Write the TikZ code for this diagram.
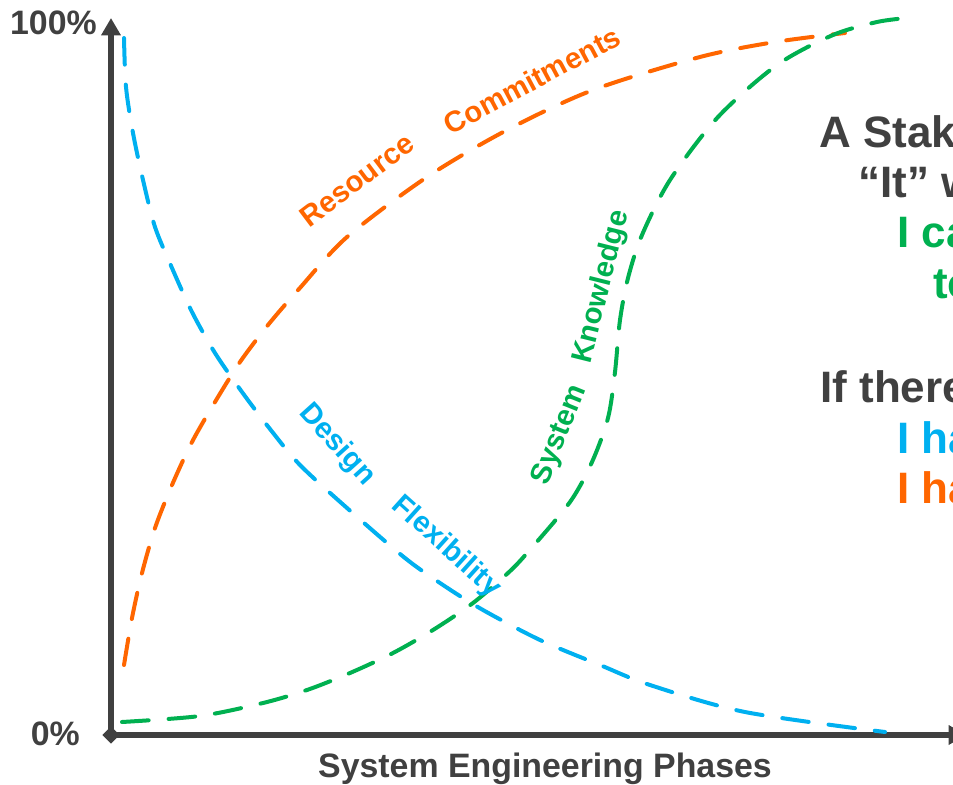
\documentclass[tikz,border=0pt]{standalone}
\usepackage{fontspec}
\setmainfont{Liberation Sans}
\usetikzlibrary{arrows.meta,shapes.geometric}
\definecolor{axisgray}{HTML}{404040}
\definecolor{flexblue}{HTML}{00B0F0}
\definecolor{costorange}{HTML}{FF6600}
\definecolor{knowgreen}{HTML}{00B050}
\begin{document}
\begin{tikzpicture}[x=0.75pt,y=-0.75pt,
  axis/.style={draw=axisgray,line width=3.8pt},
  curve/.style={line width=3pt,line cap=round,dash pattern=on 20pt off 15pt},
  curvelabel/.style={font=\fontsize{22}{26}\selectfont\bfseries,inner sep=0pt},
  axislabel/.style={font=\fontsize{25.4}{30}\selectfont\bfseries,text=axisgray,inner sep=0pt},
  sidetext/.style={font=\fontsize{33}{40}\selectfont\bfseries,inner sep=0pt,anchor=base west}]
  \useasboundingbox (0,0) rectangle (953,785);
  % axes
  \coordinate (origin) at (111,735);
  \coordinate (ytop) at (111,18);
  \coordinate (xend) at (966,735);
  \draw[axis,-{Triangle[length=13pt,width=14pt]}] (origin) -- (ytop);
  \draw[axis,-{Triangle[length=13pt,width=14pt]}] (origin) -- (xend);
  \node[diamond,fill=axisgray,inner sep=0pt,minimum size=13pt] (corner) at (origin) {};
  \node[axislabel,anchor=base east] (fulllbl) at (97,34) {100\%};
  \node[axislabel,anchor=base east] (zerolbl) at (80,745) {0\%};
  \node[axislabel,anchor=base] (phaselbl) at (545,777) {System Engineering Phases};
  % design flexibility
  \draw[curve,flexblue] plot[smooth] coordinates {(124,38) (126,87) (133,133) (143,180)
    (155,227) (172,268) (192,312) (215,353) (242,392) (270,429) (300,465)
    (347,508) (405,558) (443,585) (483,610) (540,640) (600,665) (650,685)
    (745,712) (885,732)};
  % resource commitments
  \draw[curve,costorange] plot[smooth] coordinates {(124,665) (132,618) (142,573)
    (155,528) (172,485) (192,442) (215,402) (240,362) (268,325) (299,289)
    (347,237) (427,177) (507,130) (593,90) (700,57) (775,42) (845,33)};
  % system knowledge
  \draw[curve,knowgreen] plot[smooth] coordinates {(122,722) (200,716) (263,703)
    (307,690) (350,673) (393,653) (433,630) (473,603) (508,573) (528,552)
    (570,502) (592,462) (608,418) (615,372) (620,320) (628,278) (642,235)
    (670,180) (718,117) (777,65) (833,35) (877,22) (907,18)};
  % curve labels
  \node[curvelabel,text=costorange,rotate=37] (resource) at (357,180) {Resource};
  \node[curvelabel,text=costorange,rotate=28] (commit) at (532,80) {Commitments};
  \node[curvelabel,text=flexblue,rotate=-48] (design) at (337,445) {Design};
  \node[curvelabel,text=flexblue,rotate=-42] (flex) at (446,547) {Flexibility};
  \node[curvelabel,text=knowgreen,rotate=68] (system) at (560,435) {System};
  \node[curvelabel,text=knowgreen,rotate=76] (know) at (602,287) {Knowledge};
  % side text
  \node[sidetext,text=axisgray] (stake) at (819,147) {A Stake};
  \node[sidetext,text=axisgray] (itw) at (858,197) {“It” w};
  \node[sidetext,text=knowgreen] (ica) at (897,247) {I ca};
  \node[sidetext,text=knowgreen] (to) at (933,298) {to};
  \node[sidetext,text=axisgray] (ifthere) at (820,402) {If there};
  \node[sidetext,text=flexblue] (ihaa) at (897,453) {I ha};
  \node[sidetext,text=costorange] (ihab) at (897,503) {I ha};
\end{tikzpicture}
\end{document}
